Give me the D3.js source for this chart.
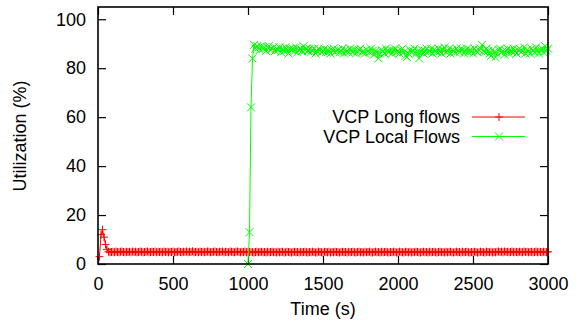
<!DOCTYPE html>
<html>
  <head>
    <script src="https://d3js.org/d3.v7.min.js"></script>
    <style>
      body { margin: 0; background: #fff; }
      text { font-family: "Liberation Sans", Arial, Helvetica, sans-serif; }
    </style>
  </head>
  <body>
    <div id="chart"></div>

    <script>
      // sampling: red from t=10 every 10 s, green from t=1000 every 10 s
      const redStart = 10, greenStart = 1000, step = 10;
      const redValues = [
        3,12,14,11,8,6,5,4.8,4.9,5,4.8,5.1,4.9,4.8,5,5.1,4.9,4.8,5,4.9,
        5,4.8,5.1,4.9,5,4.8,4.9,5.1,5,4.8,4.9,5,5.1,4.8,4.9,5,4.9,5.1,4.8,5,
        4.9,5,4.8,5.1,4.9,5,4.8,5,4.9,5.1,4.8,4.9,5,5.1,4.9,4.8,5,4.9,5.1,4.8,
        5,4.9,5.2,4.8,4.9,5,4.8,5.1,4.9,5,4.8,4.9,5.1,5,4.8,4.9,5,5.1,4.9,4.8,
        5,4.9,5.1,4.8,5,4.9,4.8,5.1,5,4.9,4.8,5,5.1,4.9,4.8,5,4.9,5.1,4.8,5,
        4.9,5,4.8,4.7,4.9,5,4.8,4.9,5,4.8,4.9,4.7,5,4.8,4.9,5,4.8,4.9,4.7,5,
        4.8,4.9,5,4.7,4.8,5,4.9,4.8,4.7,4.9,5,4.8,4.9,4.7,5,4.8,4.9,5,4.8,4.7,
        4.9,4.8,5,4.9,4.7,4.8,5,4.9,4.8,4.7,5,4.9,4.8,5,4.7,4.9,4.8,5,4.9,4.8,
        4.7,4.9,5,4.8,4.9,4.7,5,4.8,4.9,5,4.8,4.7,4.9,5,4.8,4.9,4.7,5,4.8,4.9,
        5,4.8,4.7,4.9,5,4.8,4.9,4.7,5,4.8,4.9,5,4.8,4.7,4.9,4.8,5,4.9,4.7,4.8,
        5,4.9,4.8,4.7,5,4.9,4.8,5,4.7,4.9,4.8,5,4.9,4.8,4.7,4.9,5,4.8,4.9,4.7,
        5,4.8,4.9,5,4.8,4.7,4.9,5,4.8,4.9,4.7,5,4.8,4.9,5,4.8,4.7,4.9,5,4.8,
        4.9,4.7,5,4.8,4.9,5,4.8,4.7,4.9,4.8,5,4.9,4.7,4.8,5,4.9,4.8,4.7,5,4.9,
        4.8,5,4.7,4.9,4.8,5,5.1,4.9,5,4.8,5.1,4.9,5,4.8,4.9,5.1,4.8,5,4.9,4.8,
        5,4.9,4.8,5.1,4.9,5,4.8,4.9,5,4.8,4.9,5.1,4.8,5,4.9,4.8,5,4.9,4.8,5
      ];
      const greenValues = [
        0,13,64,84,89.5,88,89,88.5,87.5,89,88,88.5,87,88.5,89,87.5,88,88.5,87,88,
        87.5,88.5,86.5,88,87,88.5,87.5,86,88,87.5,88,87,88.5,86.5,87.5,88,87,89,87.5,88,
        87,88,86.5,87.5,88,86,87,88,87.5,86.5,87,88,86.5,87.5,87,86,87.5,88,86.5,87,
        87.5,86.5,87,88,86,87.5,87,86.5,88,87,86.5,87.5,86,87,87.5,88,86.5,87,86,87.5,
        87,86.5,88,87,85.5,87,86.5,84,86,87.5,87,86,88,87,86.5,87.5,86,87,88,86.5,
        87,86,87.5,88,86.5,85,84.5,86,87.5,86.5,87,88,86,87,84,86.5,87.5,86,87,88,
        86.5,87,88,86,87.5,87,86.5,88,87,86,87.5,88.5,86.5,87,88,86,87.5,87,86.5,88,
        87,86.5,88,87.5,86,87,88,86.5,87.5,87,86,88,87,86.5,87.5,88,89.5,87,86.5,88,
        87,86,85,87.5,86.5,84.5,86,87.5,88,86.5,87,85.5,87,88,86,87.5,86.5,88,87,86,
        87.5,88,86.5,87,88.5,86,87.5,87,86,88,87,86.5,88.5,87,86,87.5,88,86.5,89,87,
        88
      ];
      const xTicks = [0, 500, 1000, 1500, 2000, 2500, 3000];
      const yTicks = [0, 20, 40, 60, 80, 100];
      const seriesNames = ["VCP Long flows", "VCP Local Flows"];

      const width = 578;
      const height = 322;
      const margin = { top: 7, right: 30, bottom: 58, left: 98 };
      const w = width - margin.left - margin.right;
      const h = height - margin.top - margin.bottom;

      const svg = d3.select("#chart")
        .append("svg")
        .attr("width", width)
        .attr("height", height);
      const chart = svg.append("g")
        .attr("transform", `translate(${margin.left}, ${margin.top})`);

      const xScale = d3.scaleLinear().domain([0, 3000]).range([0, w]);
      const yScale = d3.scaleLinear().domain([0, 105]).range([h, 0]);

      const red = redValues.map((v, i) => ({ t: redStart + i * step, v }));
      const green = greenValues.map((v, i) => ({ t: greenStart + i * step, v }));

      // axes with inward ticks, mirrored on top and right
      const tickLen = 8;
      const styleAxis = g => {
        g.select(".domain").remove();
        g.selectAll("line").attr("stroke", "#000").attr("stroke-width", 1.2);
        g.selectAll("text").attr("fill", "#000").style("font-size", "18px");
      };
      chart.append("g")
        .attr("transform", `translate(0, ${h})`)
        .call(d3.axisBottom(xScale).tickValues(xTicks).tickSize(-tickLen).tickPadding(13).tickFormat(d3.format("d")))
        .call(styleAxis);
      chart.append("g")
        .call(d3.axisTop(xScale).tickValues(xTicks).tickSize(-tickLen).tickFormat(""))
        .call(styleAxis);
      chart.append("g")
        .call(d3.axisLeft(yScale).tickValues(yTicks).tickSize(-tickLen).tickPadding(12).tickFormat(d3.format("d")))
        .call(styleAxis);
      chart.append("g")
        .attr("transform", `translate(${w}, 0)`)
        .call(d3.axisRight(yScale).tickValues(yTicks).tickSize(-tickLen).tickFormat(""))
        .call(styleAxis);

      const line = d3.line().x(d => xScale(d.t)).y(d => yScale(d.v));
      const m = 4;
      const plusPath = (x, y) => `M${x - m},${y}H${x + m}M${x},${y - m}V${y + m}`;
      const crossPath = (x, y) => `M${x - m},${y - m}L${x + m},${y + m}M${x - m},${y + m}L${x + m},${y - m}`;

      const series = [
        { data: red, color: "#ff0000", marker: plusPath },
        { data: green, color: "#00ff00", marker: crossPath }
      ];

      series.forEach(s => {
        chart.append("path")
          .datum(s.data)
          .attr("fill", "none")
          .attr("stroke", s.color)
          .attr("stroke-width", 1)
          .attr("d", line);
        chart.append("g")
          .selectAll("path")
          .data(s.data)
          .enter()
          .append("path")
          .attr("d", d => s.marker(xScale(d.t), yScale(d.v)))
          .attr("stroke", s.color)
          .attr("stroke-width", 1)
          .attr("fill", "none");
      });

      // frame
      chart.append("rect")
        .attr("width", w)
        .attr("height", h)
        .attr("fill", "none")
        .attr("stroke", "#000")
        .attr("stroke-width", 1.6);

      // legend
      const legend = svg.append("g");
      series.forEach((s, i) => {
        const y = 117 + i * 19.5;
        legend.append("text")
          .attr("x", 460)
          .attr("y", y + 6)
          .attr("text-anchor", "end")
          .style("font-size", "18px")
          .text(seriesNames[i]);
        legend.append("line")
          .attr("x1", 472).attr("x2", 525)
          .attr("y1", y).attr("y2", y)
          .attr("stroke", s.color)
          .attr("stroke-width", 1);
        legend.append("path")
          .attr("d", s.marker(499, y))
          .attr("stroke", s.color)
          .attr("fill", "none");
      });

      svg.append("text")
        .attr("x", margin.left + w / 2)
        .attr("y", 315)
        .attr("text-anchor", "middle")
        .style("font-size", "18px")
        .text("Time (s)");
      svg.append("text")
        .attr("transform", "rotate(-90)")
        .attr("x", -136)
        .attr("y", 26)
        .attr("text-anchor", "middle")
        .style("font-size", "18px")
        .text("Utilization (%)");
    </script>
  </body>
</html>
